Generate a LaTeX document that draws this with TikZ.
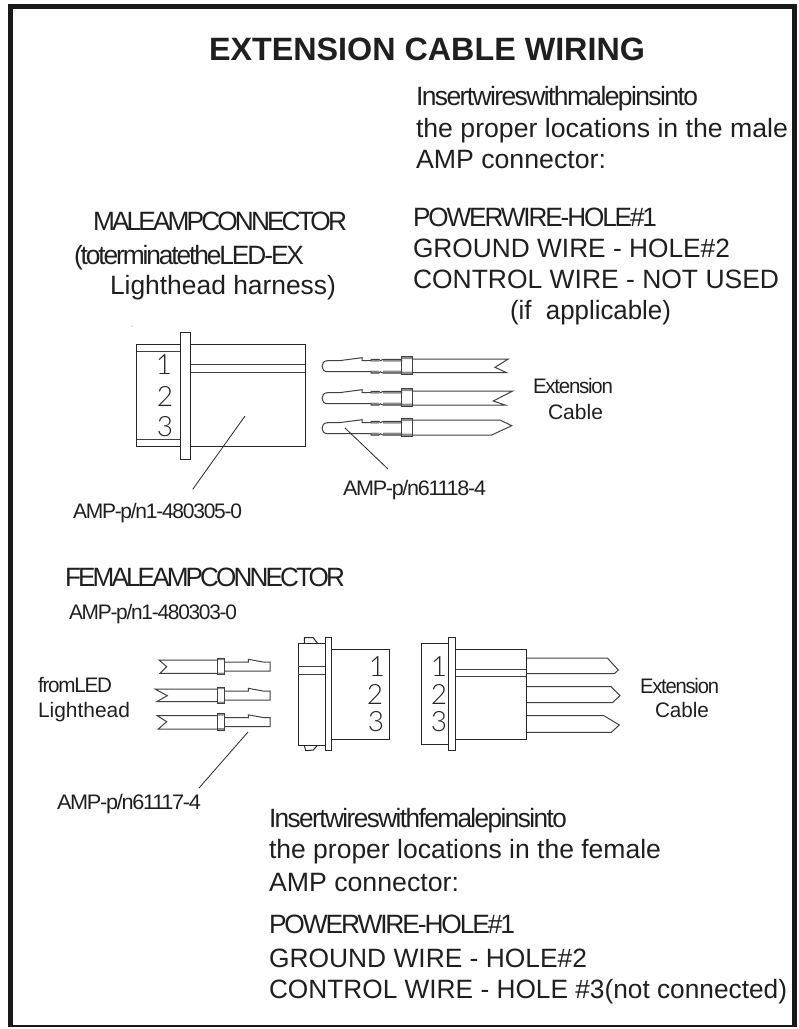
\documentclass[tikz,border=0pt]{standalone}
\usepackage{fontspec}
\usepackage{graphicx}
\setmainfont{Liberation Sans}
\newfontfamily\digitfont{Lato}[UprightFont=* Light]
\newcommand{\fitw}[2]{\resizebox{#1pt}{\height}{#2}}
\newcommand{\tightby}[1]{\addfontfeature{LetterSpace=-#1}}
\tikzset{
  lab/.style={anchor=base west,inner sep=0pt,outer sep=0pt,text=black!88},
  big/.style={lab,font=\fontsize{26.5}{30}\selectfont},
  small/.style={lab,font=\fontsize{21}{24}\selectfont},
  titletext/.style={lab,font=\fontsize{32.3}{36}\selectfont\bfseries},
  digit/.style={inner sep=0pt,outer sep=0pt,text=black!85,font=\fontsize{28}{30}\digitfont},
  part/.style={draw=black!85,line width=1pt,fill=white,line join=miter},
  wire/.style={draw=black!75,line width=1pt,line join=miter},
  leader/.style={draw=black!85,line width=0.8pt},
  crimp/.style={fill=black!45,draw=none},
  mpin/.pic={
    \path[crimp] (49,-1.3) rectangle (57,1) (61,-1.3) rectangle (79,1)
                 (49,10) rectangle (57,12.3) (61,10) rectangle (79,12.3)
                 (80,-4) rectangle (90.5,-1.5) (80,11) rectangle (90.5,13.6);
    \draw[wire] (17,0) -- (40,-3) -- (40,0) -- (49,0) (5.5,0) -- (17,0)
      (5.5,0) .. controls (-1.8,0) and (-1.8,11) .. (5.5,11) -- (49,11)
      (49,0) -- (49,-1.3) -- (57,-1.3) -- (58.5,0) -- (61,-1.3) -- (79,-1.3) -- (80,0)
      (49,11) -- (49,12.3) -- (57,12.3) -- (58.5,11) -- (61,12.3) -- (79,12.3) -- (80,11);
    \draw[wire] (79.7,-4) rectangle (90.7,13.6);
  },
  fpin/.pic={
    \path[crimp] (-3.7,-2) rectangle (3.3,0) (-3.7,12.5) rectangle (3.3,14.5);
    \draw[wire] (-3.7,-2) rectangle (3.3,14.5);
    \draw[wire] (3.3,2) -- (27.3,2) -- (27.3,-0.7) -- (42,2) -- (49,2) -- (49,11) -- (3.3,11);
  }
}
\begin{document}
\begin{tikzpicture}[x=1pt,y=-1pt]
\useasboundingbox (0,0) rectangle (799,1029);
% frame
\fill[black!90] (8,4) rectangle (797,9);
\fill[black!90] (8,4) rectangle (13,1027);
\fill[black!90] (792,4) rectangle (797,1027);
\fill[black!90] (8,1025) rectangle (797,1027);

% title and upper texts
\node[titletext] (title) at (209,60) {\fitw{436}{EXTENSION CABLE WIRING}};
\node[big] (ins1) at (416,105) {\fitw{282}{\tightby{6}Insertwireswithmalepinsinto}};
\node[big] (ins2) at (416,137) {\fitw{372}{the proper locations in the male}};
\node[big] (ins3) at (416,168) {\fitw{190}{AMP connector:}};
\node[big] (male1) at (93,230) {\fitw{254}{\tightby{11}MALEAMPCONNECTOR}};
\node[big] (male2) at (74,264) {\fitw{230}{\tightby{8}(toterminatetheLED-EX}};
\node[big] (male3) at (110,294) {\fitw{226}{Lighthead harness)}};
\node[big] (pw1) at (413,226) {\fitw{244}{\tightby{8}POWERWIRE-HOLE\#1}};
\node[big] (pw2) at (413,257) {\fitw{317}{GROUND WIRE - HOLE\#2}};
\node[big] (pw3) at (413,288) {\fitw{366}{CONTROL WIRE - NOT USED}};
\node[big] (pw4) at (510,319) {\fitw{161}{(if\ \ applicable)}};
\fill[black!70] (132,326) circle (0.5);

% male connector
\draw[part] (136.7,344.7) rectangle (180.5,446.7);
\draw[wire] (136.7,351.3) -- (180.5,351.3) (136.7,439.3) -- (180.5,439.3);
\draw[part] (190,344.7) rectangle (305,446.7);
\draw[wire] (190,364.7) -- (305,364.7) (190,372.7) -- (305,372.7);
\draw[part] (180.5,332.7) rectangle (190,459.3);
\node[digit] (md1) at (164,365) {1};
\node[digit] (md2) at (165,396) {2};
\node[digit] (md3) at (165,427) {3};
\coordinate (mleader) at (245,416);
\node[small] (mpn) at (73,518) {\fitw{169}{\tightby{6}AMP-p/n1-480305-0}};
\coordinate (mleaderend) at (192.7,489.3);
\draw[leader] (mleader) -- (mleaderend);

% male pins
\pic at (322,360.7) {mpin};
\pic at (322,392.7) {mpin};
\pic at (322,422.7) {mpin};
\draw[wire] (412.7,359) -- (508.3,359) -- (495,367.3) -- (506.7,372.7) -- (412.7,372.7);
\draw[wire] (412.7,391) -- (512.7,391) -- (493.3,401) -- (505,405) -- (412.7,405);
\draw[wire] (412.7,420) -- (500,420) -- (511.7,425.7) -- (491.7,435) -- (412.7,435);
\node[small] (ext1) at (533,393) {\fitw{80}{\tightby{6}Extension}};
\node[small] (cab1) at (548,419) {\fitw{55}{Cable}};
\coordinate (pleader) at (345,428);
\coordinate (pleaderend) at (388,469);
\draw[leader] (pleader) -- (pleaderend);
\node[small] (ppn) at (343,495) {\fitw{143}{\tightby{6}AMP-p/n61118-4}};

% female section
\node[big] (fem) at (65,586) {\fitw{280}{\tightby{11}FEMALEAMPCONNECTOR}};
\node[small] (fpn) at (69,619) {\fitw{168}{\tightby{6}AMP-p/n1-480303-0}};
\fill[black!70] (149,622) circle (0.4);
\node[small] (from) at (38,692) {\fitw{74}{\tightby{6}fromLED}};
\node[small] (lh) at (38,717) {\fitw{92}{Lighthead}};

% female pins
\draw[wire] (217.3,660) -- (159,660) -- (166.7,666.7) -- (160,673.3) -- (217.3,673.3);
\draw[wire] (217.3,689) -- (155,689) -- (167.3,695.7) -- (156.7,701.7) -- (217.3,701.7);
\draw[wire] (217.3,715.7) -- (157.3,715.7) -- (166.7,721.7) -- (158.3,729) -- (217.3,729);
\pic at (221,660) {fpin};
\pic at (221,689) {fpin};
\pic at (221,715.5) {fpin};
\coordinate (fleader) at (248,732);
\coordinate (fleaderend) at (199,788);
\draw[leader] (fleader) -- (fleaderend);
\node[small] (fppn) at (57,809) {\fitw{144}{\tightby{6}AMP-p/n61117-4}};

% female connector
\draw[part] (304.3,643.7) -- (304.3,637.7) -- (313.3,637.7) -- (317.7,643.7);
\draw[part] (304.3,745) -- (305.7,750.7) -- (313.3,750) -- (317.7,745);
\draw[part] (298.3,643.7) rectangle (325.3,745);
\draw[wire] (298.3,666.7) -- (325.3,666.7) (298.3,674.3) -- (325.3,674.3);
\draw[part] (331.7,649) rectangle (389.7,739);
\draw[part] (325.3,637.7) rectangle (331.7,750.7);
\node[digit] (fd1) at (377,667) {1};
\node[digit] (fd2) at (375,694) {2};
\node[digit] (fd3) at (376,722) {3};

% mating connector
\draw[wire] (526.3,658) -- (607.3,658) -- (618.3,670) -- (614.3,673.7) -- (526.3,673.7);
\draw[wire] (526.3,686.7) -- (611,686.7) -- (620,695.7) -- (612.3,702.7) -- (526.3,702.7);
\draw[wire] (526.3,715.7) -- (604,715.7) -- (619.3,725) -- (611.3,732.3) -- (526.3,732.3);
\draw[part] (421.7,643.3) rectangle (448.7,744.7);
\draw[part] (455,649.3) rectangle (526.3,739);
\draw[wire] (455,669) -- (526.3,669) (455,676.3) -- (526.3,676.3);
\draw[part] (448.7,637.7) rectangle (455,750);
\node[digit] (rd1) at (439,667) {1};
\node[digit] (rd2) at (439,694) {2};
\node[digit] (rd3) at (439,722) {3};
\node[small] (ext2) at (640,693) {\fitw{79}{\tightby{6}Extension}};
\node[small] (cab2) at (655,717) {\fitw{54}{Cable}};

% lower texts
\node[big] (fi1) at (269,827) {\fitw{298}{\tightby{6}Insertwireswithfemalepinsinto}};
\node[big] (fi2) at (269,858) {\fitw{392}{the proper locations in the female}};
\node[big] (fi3) at (269,891) {\fitw{190}{AMP connector:}};
\node[big] (fp1) at (269,933) {\fitw{246}{\tightby{8}POWERWIRE-HOLE\#1}};
\node[big] (fp2) at (269,967) {\fitw{318}{GROUND WIRE - HOLE\#2}};
\node[big] (fp3) at (269,998) {\fitw{518}{CONTROL WIRE - HOLE \#3(not connected)}};
\end{tikzpicture}
\end{document}
